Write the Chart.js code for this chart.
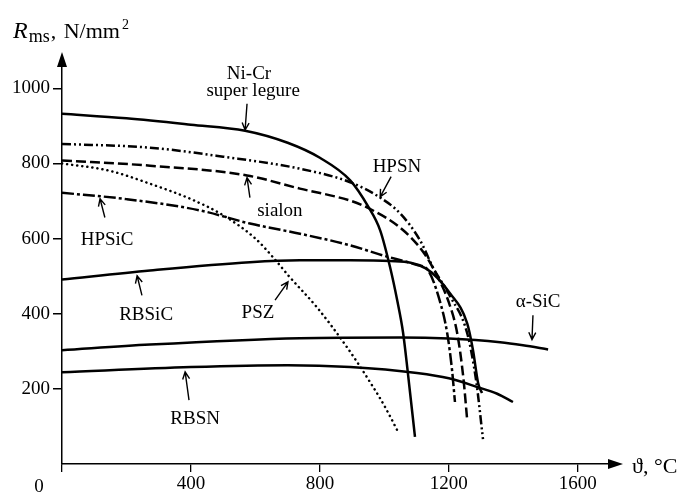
<!DOCTYPE html>
<html>
<head>
<meta charset="utf-8">
<script src="https://cdn.jsdelivr.net/npm/chart.js@4.4.1/dist/chart.umd.min.js"></script>
<style>
  html, body { margin: 0; padding: 0; background: #fff; }
</style>
</head>
<body>
<canvas id="myChart" width="684" height="497"></canvas>
<script>
// axis ticks
const tempTicks = [0, 400, 800, 1200, 1600];
const strengthTicks = [200, 400, 600, 800, 1000];

// temperature (°C) / strength (N/mm2)
const niCrT = [0, 200, 400, 568, 700, 800, 894, 950, 987, 1018, 1040, 1058, 1073, 1095];
const niCrR = [932, 920, 903, 887, 855, 815, 755, 685, 622, 523, 435, 350, 242, 72];

const hpsnT = [0, 273, 500, 738, 894, 987, 1049, 1111, 1151, 1205, 1257, 1285, 1306];
const hpsnR = [852, 842, 818, 786, 750, 709, 667, 595, 523, 445, 348, 220, 66];

const sialonT = [0, 273, 574, 738, 894, 946, 1049, 1120, 1163, 1200, 1226, 1245, 1257];
const sialonR = [808, 794, 768, 733, 701, 683, 629, 565, 502, 430, 348, 230, 117];

const hpsicT = [0, 200, 428, 583, 738, 894, 996, 1100, 1136, 1170, 1195, 1210, 1219];
const hpsicR = [722, 705, 675, 640, 613, 582, 555, 530, 515, 440, 348, 250, 165];

const pszT = [0, 150, 273, 400, 500, 600, 655, 707, 791, 884, 946, 1000, 1043];
const pszR = [800, 780, 746, 705, 662, 600, 550, 497, 417, 311, 231, 155, 85];

const rbsicT = [0, 273, 583, 738, 894, 1018, 1130, 1204, 1257, 1275, 1291, 1303];
const rbsicR = [491, 515, 537, 542, 542, 540, 520, 454, 374, 303, 215, 189];

const aSicT = [0, 273, 738, 1049, 1200, 1359, 1430, 1508];
const aSicR = [303, 318, 335, 337, 334, 324, 316, 305];

const rbsnT = [0, 400, 700, 894, 1101, 1200, 1288, 1350, 1399];
const rbsnR = [244, 258, 263, 258, 242, 228, 205, 187, 165];

// curve labels: text position and arrow (from -> tip), in data units
const labels = [
  { text: 'Ni-Cr', t: 580, r: 1025 },
  { text: 'super legure', t: 593, r: 980, arrow: [574, 959, 568, 889] },
  { text: 'HPSN', t: 1039, r: 778, arrow: [1021, 765, 987, 711] },
  { text: 'sialon', t: 676, r: 661, arrow: [583, 709, 574, 762] },
  { text: 'HPSiC', t: 140, r: 584, arrow: [133, 656, 118, 706] },
  { text: 'RBSiC', t: 261, r: 382, arrow: [248, 449, 233, 501] },
  { text: 'PSZ', t: 608, r: 388, arrow: [661, 436, 701, 485] },
  { text: 'α-SiC', t: 1477, r: 417, arrow: [1461, 396, 1458, 331] },
  { text: 'RBSN', t: 413, r: 106, arrow: [394, 170, 382, 245] },
];

const zip = (t, r) => t.map((v, i) => ({ x: v, y: r[i] }));
const serif = '"Liberation Serif", "Times New Roman", serif';

function curve(t, r, dash, cap) {
  return {
    data: zip(t, r),
    borderColor: '#000',
    borderWidth: 2.5,
    borderDash: dash || [],
    borderCapStyle: cap || 'butt',
    pointRadius: 0,
    cubicInterpolationMode: 'monotone',
    fill: false,
  };
}

const figureDecor = {
  id: 'figureDecor',
  afterDraw(chart) {
    const { ctx, chartArea: a, scales: { x, y } } = chart;
    ctx.save();
    ctx.fillStyle = '#000';
    ctx.strokeStyle = '#000';

    // axis arrowheads
    ctx.beginPath();
    ctx.moveTo(a.left, a.top - 10);
    ctx.lineTo(a.left - 5, a.top + 5);
    ctx.lineTo(a.left + 5, a.top + 5);
    ctx.closePath();
    ctx.fill();
    ctx.beginPath();
    ctx.moveTo(a.right + 13, a.bottom);
    ctx.lineTo(a.right - 2, a.bottom - 5);
    ctx.lineTo(a.right - 2, a.bottom + 5);
    ctx.closePath();
    ctx.fill();

    // y axis title: R_ms, N/mm^2
    ctx.textBaseline = 'alphabetic';
    ctx.textAlign = 'left';
    let cx = 13;
    ctx.font = 'italic 24px ' + serif;
    ctx.fillText('R', cx, 38);
    cx += ctx.measureText('R').width + 1;
    ctx.font = '18px ' + serif;
    ctx.fillText('ms', cx, 42);
    cx += ctx.measureText('ms').width + 1;
    ctx.font = '22px ' + serif;
    ctx.fillText(',', cx, 38);
    cx += ctx.measureText(', ').width + 2;
    ctx.fillText('N/mm', cx, 38);
    cx += ctx.measureText('N/mm').width + 2;
    ctx.font = '14px ' + serif;
    ctx.fillText('2', cx, 29);

    // x axis title and origin label
    ctx.font = '22px ' + serif;
    ctx.fillText('\u03d1, \u00b0C', a.right + 22, a.bottom + 9);
    ctx.font = '19px ' + serif;
    ctx.textAlign = 'center';
    ctx.fillText('0', a.left - 23, a.bottom + 28);

    // curve labels with arrows
    labels.forEach((l) => {
      ctx.font = '19px ' + serif;
      ctx.fillText(l.text, x.getPixelForValue(l.t), y.getPixelForValue(l.r));
      if (!l.arrow) return;
      const x0 = x.getPixelForValue(l.arrow[0]);
      const y0 = y.getPixelForValue(l.arrow[1]);
      const x1 = x.getPixelForValue(l.arrow[2]);
      const y1 = y.getPixelForValue(l.arrow[3]);
      const ang = Math.atan2(y1 - y0, x1 - x0);
      ctx.lineWidth = 1.4;
      ctx.beginPath();
      ctx.moveTo(x0, y0);
      ctx.lineTo(x1, y1);
      ctx.moveTo(x1 - 8 * Math.cos(ang - 0.45), y1 - 8 * Math.sin(ang - 0.45));
      ctx.lineTo(x1, y1);
      ctx.lineTo(x1 - 8 * Math.cos(ang + 0.45), y1 - 8 * Math.sin(ang + 0.45));
      ctx.stroke();
    });
    ctx.restore();
  },
};

const ctx = document.getElementById('myChart').getContext('2d');
const myChart = new Chart(ctx, {
  type: 'line',
  data: {
    datasets: [
      curve(niCrT, niCrR),
      curve(hpsnT, hpsnR, [9, 3, 2, 3, 2, 3]),
      curve(sialonT, sialonR, [10, 4]),
      curve(hpsicT, hpsicR, [12, 3, 3, 3]),
      curve(pszT, pszR, [0.1, 5], 'round'),
      curve(rbsicT, rbsicR),
      curve(aSicT, aSicR),
      curve(rbsnT, rbsnR),
    ],
  },
  options: {
    responsive: false,
    animation: false,
    devicePixelRatio: 1,
    layout: { padding: { top: 62, right: 74, left: 0, bottom: 0 } },
    plugins: { legend: { display: false }, tooltip: { enabled: false } },
    scales: {
      x: {
        type: 'linear',
        min: 0,
        max: 1700,
        afterBuildTicks: (s) => { s.ticks = tempTicks.map((v) => ({ value: v })); },
        afterFit: (s) => { s.height = 33; },
        grid: { drawOnChartArea: false, tickLength: 8, color: '#000', lineWidth: 1.3 },
        border: { color: '#000', width: 1.5 },
        ticks: {
          color: '#000',
          font: { family: serif, size: 19 },
          padding: 1,
          maxRotation: 0,
          autoSkip: false,
          callback: (v) => (v === 0 ? '' : String(v)),
        },
      },
      y: {
        min: 0,
        max: 1070,
        afterBuildTicks: (s) => { s.ticks = strengthTicks.map((v) => ({ value: v })); },
        afterFit: (s) => { s.width = 62; },
        grid: { drawOnChartArea: false, tickLength: 9, color: '#000', lineWidth: 1.5 },
        border: { color: '#000', width: 1.5 },
        ticks: {
          color: '#000',
          font: { family: serif, size: 19 },
          padding: 3,
          autoSkip: false,
          callback: (v) => String(v),
        },
      },
    },
  },
  plugins: [figureDecor],
});
</script>
</body>
</html>
